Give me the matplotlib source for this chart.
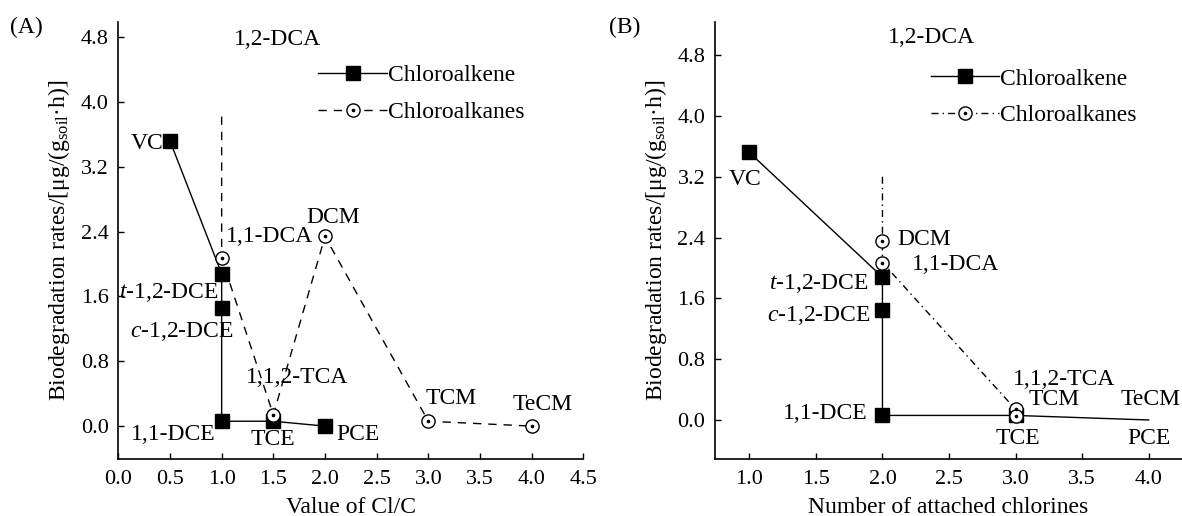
import matplotlib
matplotlib.use("Agg")
import matplotlib.pyplot as plt

plt.rcParams['font.family'] = 'Liberation Serif'
plt.rcParams['mathtext.fontset'] = 'custom'
plt.rcParams['mathtext.rm'] = 'Liberation Serif'
plt.rcParams['mathtext.it'] = 'Liberation Serif:italic'

# Panel A: rate vs Cl/C ratio
a_alkene_names = ['VC', 't-1,2-DCE', 'c-1,2-DCE', '1,1-DCE', 'TCE', 'PCE']
a_alkene_x = [0.5, 1.0, 1.0, 1.0, 1.5, 2.0]
a_alkene_y = [3.52, 1.88, 1.46, 0.06, 0.06, 0.0]

a_alkane_names = ['1,2-DCA', '1,1-DCA', '1,1,2-TCA', 'DCM', 'TCM', 'TeCM']
a_alkane_x = [1.0, 1.0, 1.5, 2.0, 3.0, 4.0]
a_alkane_y = [3.82, 2.07, 0.14, 2.34, 0.06, 0.0]

# Panel B: rate vs number of chlorines
b_alkene_names = ['VC', 't-1,2-DCE', 'c-1,2-DCE', '1,1-DCE', 'TCE', 'PCE']
b_alkene_x = [1, 2, 2, 2, 3, 4]
b_alkene_y = [3.52, 1.88, 1.45, 0.06, 0.06, 0.0]

b_alkane_names = ['1,2-DCA', 'DCM', '1,1-DCA', '1,1,2-TCA', 'TCM']
b_alkane_x = [2, 2, 2, 3, 3]
b_alkane_y = [3.2, 2.35, 2.07, 0.14, 0.05]

yticks = [0.0, 0.8, 1.6, 2.4, 3.2, 4.0, 4.8]
a_xticks = [0.0, 0.5, 1.0, 1.5, 2.0, 2.5, 3.0, 3.5, 4.0, 4.5]
b_xticks = [1.0, 1.5, 2.0, 2.5, 3.0, 3.5, 4.0]

# label placement (data coords): name -> (x, y, ha)
a_label_pos = {
    'VC': (0.44, 3.49, 'right'),
    't-1,2-DCE': (0.01, 1.65, 'left'),
    'c-1,2-DCE': (1.12, 1.17, 'right'),
    '1,1-DCE': (0.94, -0.10, 'right'),
    'TCE': (1.50, -0.17, 'center'),
    'PCE': (2.11, -0.10, 'left'),
    '1,2-DCA': (1.12, 4.77, 'left'),
    '1,1-DCA': (1.04, 2.34, 'left'),
    '1,1,2-TCA': (1.73, 0.60, 'center'),
    'DCM': (2.08, 2.58, 'center'),
    'TCM': (3.22, 0.34, 'center'),
    'TeCM': (4.11, 0.27, 'center'),
}
b_label_pos = {
    'VC': (0.97, 3.16, 'center'),
    't-1,2-DCE': (1.90, 1.80, 'right'),
    'c-1,2-DCE': (1.91, 1.38, 'right'),
    '1,1-DCE': (1.89, 0.09, 'right'),
    'TCE': (3.02, -0.25, 'center'),
    'PCE': (4.00, -0.25, 'center'),
    '1,2-DCA': (2.04, 5.03, 'left'),
    'DCM': (2.11, 2.38, 'left'),
    '1,1-DCA': (2.22, 2.05, 'left'),
    '1,1,2-TCA': (2.98, 0.53, 'left'),
    'TCM': (3.10, 0.27, 'left'),
    'TeCM': (3.79, 0.27, 'left'),
}


def pretty(name):
    if name[:2] in ('t-', 'c-'):
        return '$' + name[0] + '$' + name[1:]
    return name


def draw(ax, ex, ey, en, kx, ky, kn, alk_ls, alk_mark, ene_mark, labels):
    ene, = ax.plot(ex, ey, color='k', lw=1.0, marker='s', ms=9.5,
                   mfc='k', mec='k', markevery=ene_mark, zorder=2)
    alk, = ax.plot(kx, ky, color='k', lw=1.0, ls=alk_ls, marker='o', ms=9.5,
                   mfc='white', mec='k', mew=1.0, markevery=alk_mark, zorder=3)
    dots, = ax.plot([kx[i] for i in alk_mark], [ky[i] for i in alk_mark],
                    ls='none', marker='o', ms=1.6, color='k', zorder=4)
    for name, (x, y, ha) in labels.items():
        ax.text(x, y, pretty(name), ha=ha, va='center', fontsize=17)
    for s in ('top', 'right'):
        ax.spines[s].set_visible(False)
    for s in ('left', 'bottom'):
        ax.spines[s].set_linewidth(1.2)
    ax.tick_params(direction='in', length=4.5, width=1.0, labelsize=16)
    ax.tick_params(axis='y', pad=7)
    ax.tick_params(axis='x', pad=8)
    ax.set_yticks(yticks)
    ax.set_yticklabels(['%.1f' % v for v in yticks])
    ax.set_ylabel('Biodegradation rates/[μg/(g$_{\\rm soil}$·h)]', fontsize=17, labelpad=6)
    return ene, (alk, dots)


fig = plt.figure(figsize=(11.82, 5.16), dpi=100)
axA = fig.add_axes([0.1001, 0.1114, 0.3934, 0.8465])
axB = fig.add_axes([0.6049, 0.1114, 0.3951, 0.8465])

hA = draw(axA, a_alkene_x, a_alkene_y, a_alkene_names,
          a_alkane_x, a_alkane_y, a_alkane_names,
          (0, (6, 5)), list(range(1, len(a_alkane_x))),
          list(range(len(a_alkene_x))), a_label_pos)
axA.set_xlim(0, 4.5)
axA.set_ylim(-0.40, 4.99)
axA.set_xticks(a_xticks)
axA.set_xticklabels(['%.1f' % v for v in a_xticks])
axA.set_xlabel('Value of Cl/C', fontsize=17, labelpad=6)

hB = draw(axB, b_alkene_x, b_alkene_y, b_alkene_names,
          b_alkane_x, b_alkane_y, b_alkane_names,
          (0, (5, 3, 1, 3)), list(range(1, len(b_alkane_x))),
          list(range(len(b_alkene_x) - 1)), b_label_pos)
axB.set_xlim(0.742, 4.25)
axB.set_ylim(-0.507, 5.24)
axB.set_xticks(b_xticks)
axB.set_xticklabels(['%.1f' % v for v in b_xticks])
axB.set_xlabel('Number of attached chlorines', fontsize=17, labelpad=6)

for ax, h, anchor in ((axA, hA, (0.430, 0.901)), (axB, hB, (0.462, 0.894))):
    ax.legend([h[0], h[1]], ['Chloroalkene', 'Chloroalkanes'], loc='upper left',
              bbox_to_anchor=anchor, frameon=False, fontsize=17, numpoints=1,
              handlelength=2.9, handletextpad=0.05, labelspacing=0.65,
              borderpad=0, borderaxespad=0)

fig.text(0.0085, 0.946, '(A)', fontsize=17, va='center', ha='left')
fig.text(0.515, 0.946, '(B)', fontsize=17, va='center', ha='left')

fig.savefig('out.png', dpi=100)
